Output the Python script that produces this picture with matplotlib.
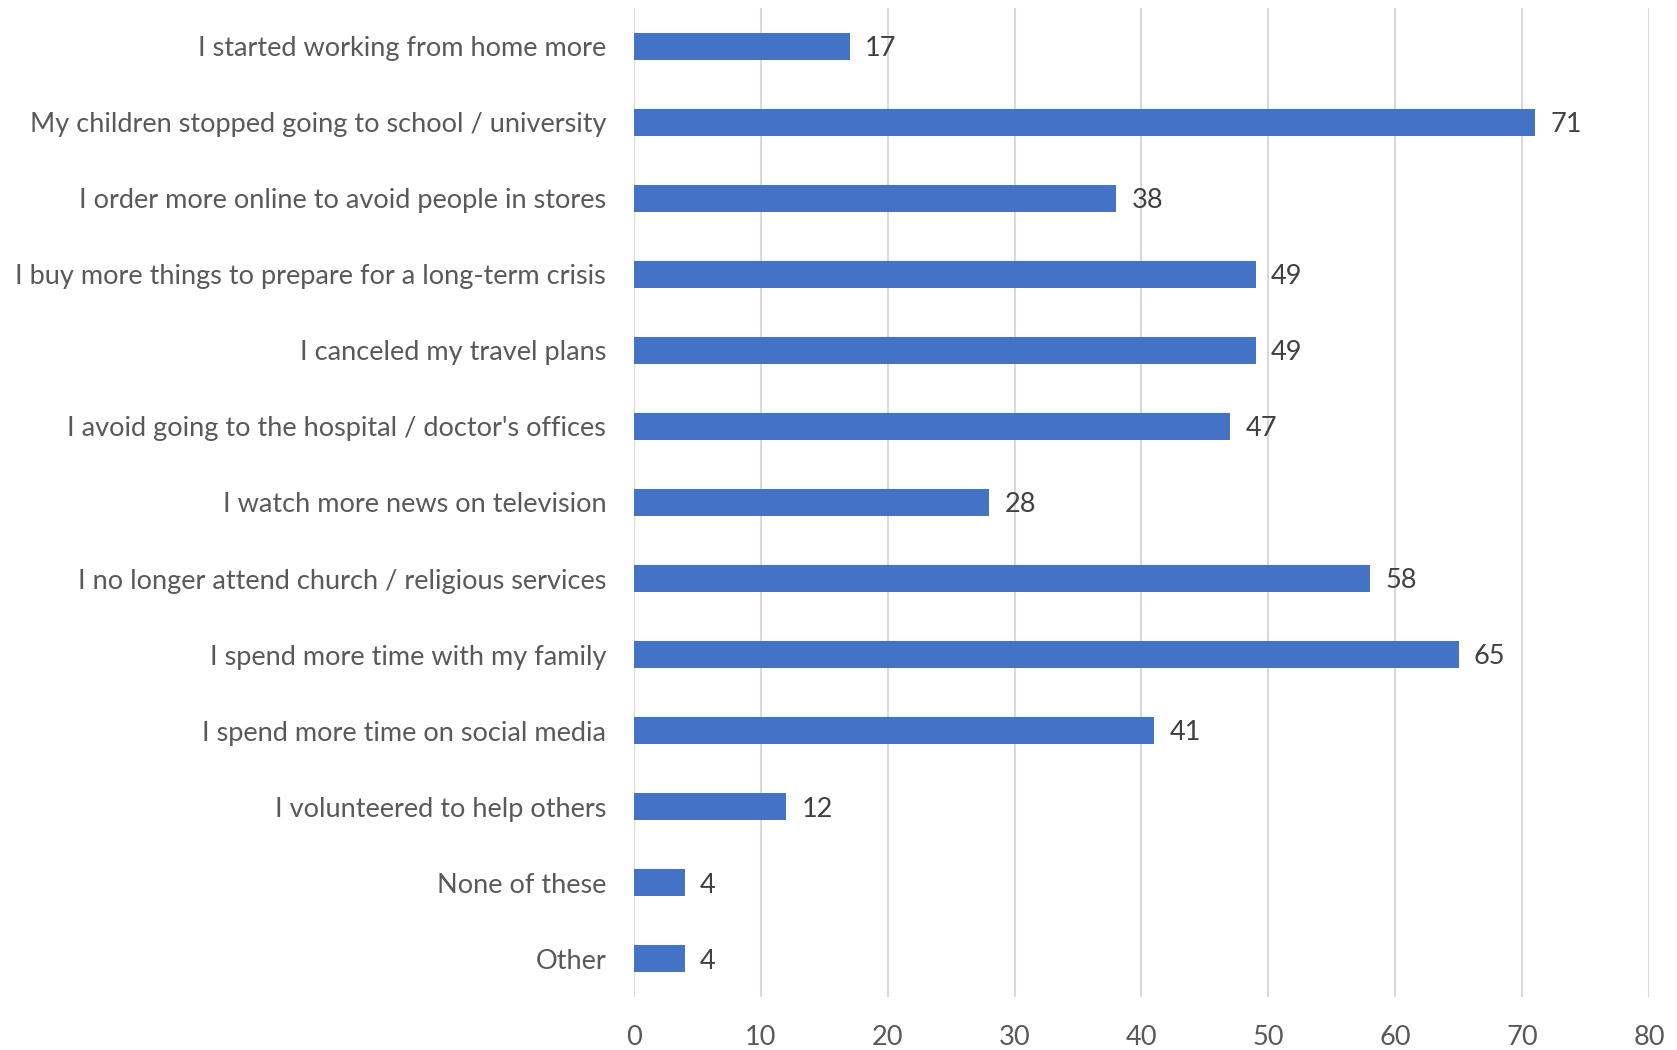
import matplotlib
matplotlib.use('Agg')
import matplotlib.pyplot as plt

plt.rcParams['font.family'] = ['Lato', 'DejaVu Sans']

# Datos
categorias = [
    'I started working from home more',
    'My children stopped going to school / university',
    'I order more online to avoid people in stores',
    'I buy more things to prepare for a long-term crisis',
    'I canceled my travel plans',
    "I avoid going to the hospital / doctor's offices",
    'I watch more news on television',
    'I no longer attend church / religious services',
    'I spend more time with my family',
    'I spend more time on social media',
    'I volunteered to help others',
    'None of these',
    'Other',
]
valores = [17, 71, 38, 49, 49, 47, 28, 58, 65, 41, 12, 4, 4]
ticks_x = [0, 10, 20, 30, 40, 50, 60, 70, 80]

fig = plt.figure(figsize=(16.77, 10.5), dpi=100)
ax = fig.add_axes([0.378, 0.0505, 0.6053, 0.9419])

pos = list(range(len(categorias)))
ax.barh(pos, valores, height=0.355, color='#4472C4', zorder=3)

# Etiquetas de valor
for p, v in zip(pos, valores):
    ax.text(v + 1.2, p + 0.03, str(v), va='center', ha='left', fontsize=19.5, color='#404040')

ax.set_ylim(len(categorias) - 0.5, -0.5)
ax.set_xlim(0, 80)
ax.set_yticks(pos)
ax.set_yticklabels(categorias, fontsize=19.5, color='#595959')
ax.set_xticks(ticks_x)
ax.set_xticklabels([str(t) for t in ticks_x], fontsize=19.5, color='#595959')
ax.tick_params(axis='y', length=0, pad=20)
ax.tick_params(axis='x', length=0, pad=20)

ax.grid(axis='x', color='#D9D9D9', linewidth=1.5, zorder=0)
for s in ax.spines.values():
    s.set_visible(False)

plt.savefig('out.png', dpi=100)
